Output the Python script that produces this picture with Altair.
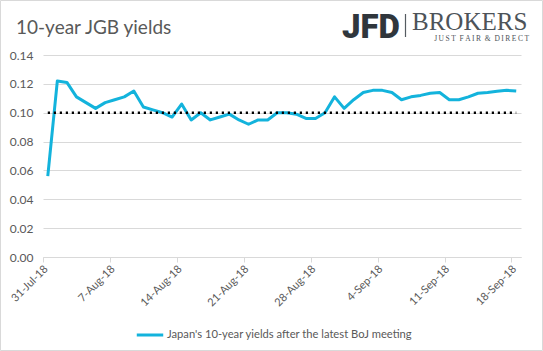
import altair as alt
import pandas as pd

# ---------------- data ----------------
series_name = "Japan's 10-year yields after the latest BoJ meeting"
start_date = "2018-07-31"
end_date = "2018-09-18"
yields = [
    0.056, 0.122, 0.121, 0.111, 0.107, 0.103, 0.107, 0.109, 0.111, 0.115,
    0.104, 0.102, 0.100, 0.097, 0.106, 0.095, 0.100, 0.095, 0.097, 0.099,
    0.095, 0.092, 0.095, 0.095, 0.100, 0.100, 0.099, 0.096, 0.096, 0.100,
    0.111, 0.103, 0.109, 0.114, 0.1155, 0.1155, 0.114, 0.109, 0.111, 0.112,
    0.1135, 0.114, 0.109, 0.109, 0.111, 0.1135, 0.114, 0.1148, 0.1155, 0.115,
]
threshold = 0.10
tick_labels = ["31-Jul-18", "7-Aug-18", "14-Aug-18", "21-Aug-18",
               "28-Aug-18", "4-Sep-18", "11-Sep-18", "18-Sep-18"]
y_ticks = [0.00, 0.02, 0.04, 0.06, 0.08, 0.10, 0.12, 0.14]
title_text = "10-year JGB yields"

# ---------------- build tables ----------------
days = pd.date_range(start_date, end_date, freq="D")
df = pd.DataFrame({
    "date": [d.strftime("%Y-%m-%dT12:00:00Z") for d in days],
    "yield": yields,
    "series": series_name,
})
thr_df = pd.DataFrame({
    "start": [df["date"].iloc[0]],
    "end": [df["date"].iloc[-1]],
    "level": [threshold],
})


def ms(ts):
    return int(pd.Timestamp(ts, tz="UTC").value // 10**6)


tick_values = [ms(pd.to_datetime(t, format="%d-%b-%y")) for t in tick_labels]
x_domain = [ms(start_date), ms(pd.Timestamp(end_date) + pd.Timedelta(days=1))]

W, H = 478, 202
PL, PT, PR, PB = 43, 55, 22, 94
GRAY = "#595959"
GRID = "#d9d9d9"
BLUE = "#13b3dc"
FONT = "Lato"

x_scale = alt.Scale(type="utc", domain=x_domain)
y_scale = alt.Scale(domain=[0, 0.14], nice=False, zero=True)

x_axis = alt.Axis(
    values=tick_values,
    labelExpr="utcFormat(datum.value, '%-d-%b-%y')",
    labelAngle=-45, labelAlign="right", labelBaseline="middle",
    labelPadding=5, labelOffset=3,
    labelFontSize=11, labelColor=GRAY, labelFont=FONT,
    labelOverlap=False,
    grid=False, domain=True, domainColor=GRID, ticks=True,
    tickColor=GRID, tickSize=5, title=None,
)
y_axis = alt.Axis(
    values=y_ticks, format=".2f", grid=True, gridColor=GRID,
    domain=False, ticks=False, labelPadding=10, labelFontSize=12,
    labelColor=GRAY, labelFont=FONT, title=None, labelOverlap=False,
)

line = alt.Chart(df).mark_line(strokeWidth=3, strokeJoin="round").encode(
    x=alt.X("date:T", scale=x_scale, axis=x_axis),
    y=alt.Y("yield:Q", scale=y_scale, axis=y_axis),
    color=alt.Color(
        "series:N",
        scale=alt.Scale(domain=[series_name], range=[BLUE]),
        legend=alt.Legend(
            orient="none", legendX=92, legendY=265, title=None,
            symbolType="stroke", symbolStrokeWidth=3, symbolSize=700,
            labelFontSize=11.2, labelColor=GRAY, labelFont=FONT,
            labelOffset=2, labelLimit=400,
        ),
    ),
)

thr = alt.Chart(thr_df).mark_rule(
    color="black", strokeWidth=2.5, strokeDash=[2.2, 3.8]
).encode(
    x=alt.X("start:T", scale=x_scale, axis=x_axis),
    x2="end:T",
    y=alt.Y("level:Q", scale=y_scale, axis=y_axis),
)

one = alt.Data(values=[{"k": 1}])

border = alt.Chart(one).mark_rect(fill=None, stroke=GRID, strokeWidth=1).encode(
    x=alt.value(-PL + 0.5), x2=alt.value(W + PR - 0.5),
    y=alt.value(-PT + 0.5), y2=alt.value(H + PB - 0.5),
)

title = alt.Chart(one).mark_text(
    text=title_text, font=FONT, fontSize=19, color=GRAY, align="left",
    baseline="alphabetic",
).encode(x=alt.value(16 - PL), y=alt.value(34 - PT))

logo_jfd = alt.Chart(one).mark_text(
    text="JFD", font="Roboto", fontSize=33, fontWeight=900, color="#30363c",
    align="left", baseline="alphabetic",
).encode(x=alt.value(342 - PL), y=alt.value(38 - PT))

logo_bar = alt.Chart(one).mark_rule(color="#555b61", strokeWidth=1.2).encode(
    x=alt.value(405.5 - PL), y=alt.value(14 - PT), y2=alt.value(37 - PT)
)

logo_brokers = alt.Chart(one).mark_text(
    text="BROKERS", font="Liberation Serif", fontSize=25, color="#4d5359",
    align="left", baseline="alphabetic",
).encode(x=alt.value(412 - PL), y=alt.value(30 - PT))

tag = "\u2009".join("JUST") + "\u00a0\u00a0" + "\u2009".join("FAIR") + \
    "\u00a0\u00a0&\u00a0\u00a0" + "\u2009".join("DIRECT")
logo_tag = alt.Chart(one).mark_text(
    text=tag, font="Liberation Serif",
    fontSize=7.5, color="#4d5359", align="right", baseline="alphabetic",
).encode(x=alt.value(529 - PL), y=alt.value(41 - PT))

chart = alt.layer(
    border, line, thr, title, logo_jfd, logo_bar, logo_brokers, logo_tag
).properties(
    width=W, height=H,
    autosize=alt.AutoSizeParams(type="none"),
    padding={"left": PL, "top": PT, "right": PR, "bottom": PB},
    background="white",
).configure_view(stroke=None)

chart.save("out.html", embed_options={"renderer": "svg", "actions": False})
